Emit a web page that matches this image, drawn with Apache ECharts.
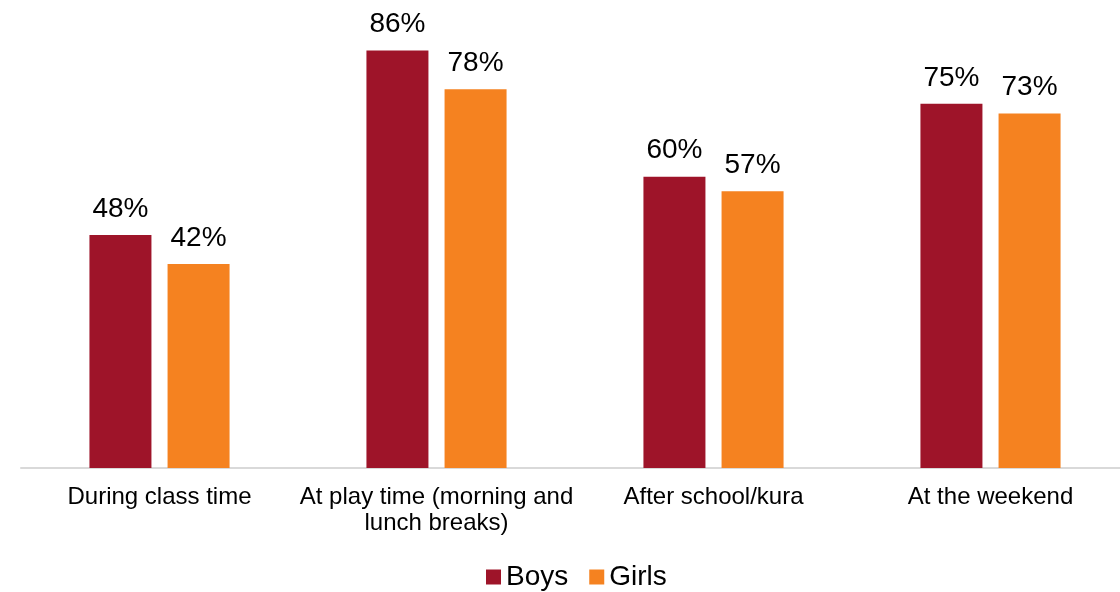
<!DOCTYPE html>
<html>
<head>
<meta charset="utf-8">
<script src="https://cdn.jsdelivr.net/npm/echarts@6/dist/echarts.min.js"></script>
<style>
  html, body { margin: 0; padding: 0; background: #ffffff; }
  #chart { width: 1120px; height: 592px; }
</style>
</head>
<body>
<div id="chart"></div>
<script>
// Share of children active at each time of day
const categories = [
  'During class time',
  'At play time (morning and\nlunch breaks)',
  'After school/kura',
  'At the weekend'
];
const boys = [48, 86, 60, 75];
const girls = [42, 78, 57, 73];

const FONT = '"Liberation Sans", Arial, sans-serif';

const chart = echarts.init(document.getElementById('chart'));

const labelStyle = {
  show: true,
  position: 'top',
  distance: 12,
  formatter: '{c}%',
  fontFamily: FONT,
  fontSize: 28,
  color: '#000000'
};

chart.setOption({
  animation: false,
  backgroundColor: '#ffffff',
  // plot runs a little past the right edge so the axis line reaches it
  grid: {
    left: 21,
    right: -9,
    top: 31,
    bottom: 124,
    containLabel: false,
    outerBoundsMode: 'none'
  },
  legend: {
    top: 558,
    left: 481,
    itemWidth: 15,
    itemHeight: 15,
    itemGap: 21,
    icon: 'rect',
    textStyle: { fontFamily: FONT, fontSize: 28, color: '#000000' },
    data: ['Boys', 'Girls']
  },
  xAxis: {
    type: 'category',
    data: categories,
    axisLine: { show: true, lineStyle: { color: '#d9d9d9', width: 2 } },
    axisTick: { show: false },
    axisLabel: {
      interval: 0,
      margin: 16,
      fontFamily: FONT,
      fontSize: 24,
      lineHeight: 26,
      color: '#000000'
    }
  },
  yAxis: {
    type: 'value',
    min: 0,
    max: 90,
    show: false,
    splitLine: { show: false }
  },
  series: [
    {
      name: 'Boys',
      type: 'bar',
      data: boys,
      barWidth: 62,
      barGap: '26%',
      itemStyle: { color: '#9e1429' },
      label: labelStyle
    },
    {
      name: 'Girls',
      type: 'bar',
      data: girls,
      barWidth: 62,
      itemStyle: { color: '#f58220' },
      label: labelStyle
    }
  ]
});
</script>
</body>
</html>
